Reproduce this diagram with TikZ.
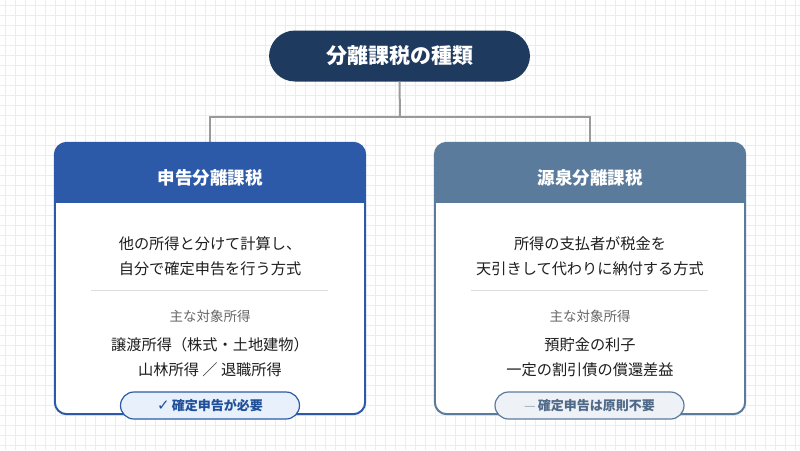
\documentclass[tikz,border=0pt]{standalone}
\usepackage{fontspec}
\setmainfont{Noto Sans CJK JP}
\newfontfamily\jp{Noto Sans CJK JP}
\newfontfamily\dejavu{DejaVu Sans}
\definecolor{gridc}{HTML}{ECE8FF}
\definecolor{navy}{HTML}{1F3A5F}
\definecolor{lblue}{HTML}{2C5AA8}
\definecolor{steel}{HTML}{5A7B9C}
\definecolor{conn}{HTML}{9A9A9A}
\definecolor{txt}{HTML}{1E1E1E}
\definecolor{subtxt}{HTML}{666666}
\definecolor{divc}{HTML}{DDDDDD}
\definecolor{lbadge}{HTML}{E8F0FB}
\definecolor{rbadge}{HTML}{EEF1F5}
\definecolor{lbtxt}{HTML}{1F4F99}
\definecolor{rbtxt}{HTML}{4F6A88}
\begin{document}
\begin{tikzpicture}[x=1pt,y=-1pt,
  titlebox/.style={fill=navy, rounded corners=26pt, minimum width=261pt, minimum height=51pt, text=white, font=\jp\bfseries\fontsize{21}{25}\selectfont},
  cardbox/.style={minimum width=310pt, minimum height=271pt, inner sep=0pt},
  headtext/.style={text=white, font=\jp\bfseries\fontsize{17.5}{21}\selectfont},
  bodytext/.style={text=txt, align=center, font=\jp\fontsize{15.2}{25}\selectfont},
  subtext/.style={text=subtxt, font=\jp\fontsize{13.5}{16}\selectfont},
  badge/.style={rounded corners=13.5pt, minimum height=27pt, line width=1.2pt, font=\jp\bfseries\fontsize{13}{16}\selectfont},
  connector/.style={draw=conn, line width=2pt}
]
\useasboundingbox (0,0) rectangle (800,450);
\fill[white] (0,0) rectangle (800,450);
\foreach \i in {5,15,...,795} \draw[gridc, line width=1pt] (\i,0) -- (\i,450);
\foreach \j in {5,15,...,445} \draw[gridc, line width=1pt] (0,\j) -- (800,\j);

% title
\node[titlebox] (title) at (399.5,56) {分離課税の種類};

% cards
\node[cardbox] (lbox) at (210,278.5) {};
\node[cardbox] (rbox) at (590,278.5) {};

% connectors
\coordinate (junc) at (400,117);
\draw[connector] (title.south) -- (junc);
\draw[connector] (lbox.north) |- (junc) -| (rbox.north);

% left card
\fill[white, rounded corners=12pt] (lbox.north west) rectangle (lbox.south east);
\begin{scope}
  \clip[rounded corners=12pt] (lbox.north west) rectangle (lbox.south east);
  \fill[lblue] (lbox.north west) rectangle ([yshift=-60pt]lbox.north east);
\end{scope}
\draw[lblue, line width=2pt, rounded corners=12pt] (lbox.north west) rectangle (lbox.south east);

% right card
\fill[white, rounded corners=12pt] (rbox.north west) rectangle (rbox.south east);
\begin{scope}
  \clip[rounded corners=12pt] (rbox.north west) rectangle (rbox.south east);
  \fill[steel] (rbox.north west) rectangle ([yshift=-60pt]rbox.north east);
\end{scope}
\draw[steel, line width=2pt, rounded corners=12pt] (rbox.north west) rectangle (rbox.south east);

% left content
\node[headtext] (lhead) at (210,178) {申告分離課税};
\node[bodytext] (ldesc) at (210,256) {他の所得と分けて計算し、\\自分で確定申告を行う方式};
\coordinate (ldl) at (91,290.5);
\coordinate (ldr) at (328,290.5);
\draw[divc, line width=1pt] (ldl) -- (ldr);
\node[subtext] (lsub) at (210,316) {主な対象所得};
\node[bodytext] (litems) at (210,357) {譲渡所得（株式・土地建物）\\山林所得 ／ 退職所得};
\node[badge, fill=lbadge, draw=lblue, text=lbtxt, minimum width=179pt] (lbadge) at (210,405.5) {{\dejavu\bfseries\fontsize{15}{16}\selectfont ✓}\,確定申告が必要};

% right content
\node[headtext] (rhead) at (590,178) {源泉分離課税};
\node[bodytext] (rdesc) at (590,256) {所得の支払者が税金を\\天引きして代わりに納付する方式};
\coordinate (rdl) at (471,290.5);
\coordinate (rdr) at (708,290.5);
\draw[divc, line width=1pt] (rdl) -- (rdr);
\node[subtext] (rsub) at (590,316) {主な対象所得};
\node[bodytext] (ritems) at (590,357) {預貯金の利子\\一定の割引債の償還差益};
\node[badge, fill=rbadge, draw=steel, text=rbtxt, minimum width=189pt] (rbadge) at (589.5,405.5) {{\color{rbtxt!60}\mdseries —}\,確定申告は原則不要};
\end{tikzpicture}
\end{document}
